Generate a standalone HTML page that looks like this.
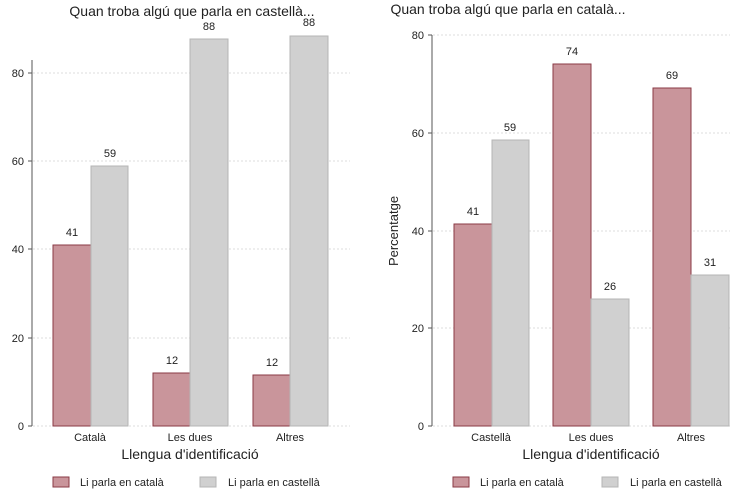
<!DOCTYPE html>
<html><head><meta charset="utf-8"><style>
body{margin:0;background:#fff}
svg{display:block;font-family:"Liberation Sans",sans-serif}
</style></head><body>
<svg width="730" height="500" viewBox="0 0 730 500">
<g font-size="12" fill="#222">
<!-- LEFT -->
<text x="192" y="16" text-anchor="middle" font-size="14">Quan troba algú que parla en castellà...</text>
<g stroke="#ddd" stroke-dasharray="2,2">
<line x1="33" y1="73" x2="350" y2="73"/><line x1="33" y1="161" x2="350" y2="161"/><line x1="33" y1="249" x2="350" y2="249"/><line x1="33" y1="338" x2="350" y2="338"/><line x1="33" y1="426" x2="350" y2="426"/>
</g>
<line x1="32" y1="60" x2="32" y2="426" stroke="#555"/>
<g stroke="#555"><line x1="28" y1="73" x2="32" y2="73"/><line x1="28" y1="161" x2="32" y2="161"/><line x1="28" y1="249" x2="32" y2="249"/><line x1="28" y1="338" x2="32" y2="338"/><line x1="28" y1="426" x2="32" y2="426"/></g>
<g text-anchor="end" font-size="11"><text x="24" y="77">80</text><text x="24" y="165">60</text><text x="24" y="253">40</text><text x="24" y="342">20</text><text x="24" y="430">0</text></g>
<g fill="#c9959b" stroke="#8a3a44"><rect x="53" y="245" width="38" height="181"/><rect x="153" y="373" width="37" height="53"/><rect x="253" y="375" width="37" height="51"/></g>
<g fill="#d0d0d0" stroke="#b5b5b5"><rect x="91" y="166" width="37" height="260"/><rect x="190" y="39" width="38" height="387"/><rect x="290" y="36" width="38" height="390"/></g>
<g text-anchor="middle" font-size="11"><text x="72" y="236">41</text><text x="110" y="157">59</text><text x="172" y="364">12</text><text x="209" y="30">88</text><text x="272" y="366">12</text><text x="309" y="26">88</text></g>
<g text-anchor="middle" font-size="11"><text x="90" y="441">Català</text><text x="190" y="441">Les dues</text><text x="290" y="441">Altres</text></g>
<text x="190" y="459" text-anchor="middle" font-size="14">Llengua d'identificació</text>
<rect x="53" y="477" width="16" height="10" fill="#c9959b" stroke="#8a3a44"/><text x="80" y="486" font-size="11">Li parla en català</text>
<rect x="200" y="477" width="16" height="10" fill="#d0d0d0" stroke="#b5b5b5"/><text x="228" y="486" font-size="11">Li parla en castellà</text>
<!-- RIGHT -->
<text x="508" y="14" text-anchor="middle" font-size="14">Quan troba algú que parla en català...</text>
<g stroke="#ddd" stroke-dasharray="2,2">
<line x1="433" y1="35" x2="730" y2="35"/><line x1="433" y1="133" x2="730" y2="133"/><line x1="433" y1="231" x2="730" y2="231"/><line x1="433" y1="328" x2="730" y2="328"/><line x1="433" y1="426" x2="730" y2="426"/>
</g>
<line x1="432" y1="35" x2="432" y2="426" stroke="#555"/>
<g stroke="#555"><line x1="428" y1="35" x2="432" y2="35"/><line x1="428" y1="133" x2="432" y2="133"/><line x1="428" y1="231" x2="432" y2="231"/><line x1="428" y1="328" x2="432" y2="328"/><line x1="428" y1="426" x2="432" y2="426"/></g>
<g text-anchor="end" font-size="11"><text x="424" y="39">80</text><text x="424" y="137">60</text><text x="424" y="235">40</text><text x="424" y="332">20</text><text x="424" y="430">0</text></g>
<text transform="translate(398,231) rotate(-90)" text-anchor="middle" font-size="13">Percentatge</text>
<g fill="#c9959b" stroke="#8a3a44"><rect x="454" y="224" width="38" height="202"/><rect x="553" y="64" width="38" height="362"/><rect x="653" y="88" width="38" height="338"/></g>
<g fill="#d0d0d0" stroke="#b5b5b5"><rect x="492" y="140" width="37" height="286"/><rect x="591" y="299" width="38" height="127"/><rect x="691" y="275" width="38" height="151"/></g>
<g text-anchor="middle" font-size="11"><text x="473" y="215">41</text><text x="510" y="131">59</text><text x="572" y="55">74</text><text x="610" y="290">26</text><text x="672" y="79">69</text><text x="710" y="266">31</text></g>
<g text-anchor="middle" font-size="11"><text x="491" y="441">Castellà</text><text x="591" y="441">Les dues</text><text x="691" y="441">Altres</text></g>
<text x="591" y="459" text-anchor="middle" font-size="14">Llengua d'identificació</text>
<rect x="453" y="477" width="16" height="10" fill="#c9959b" stroke="#8a3a44"/><text x="480" y="486" font-size="11">Li parla en català</text>
<rect x="602" y="477" width="16" height="10" fill="#d0d0d0" stroke="#b5b5b5"/><text x="630" y="486" font-size="11">Li parla en castellà</text>
</g>
</svg>
</body></html>
